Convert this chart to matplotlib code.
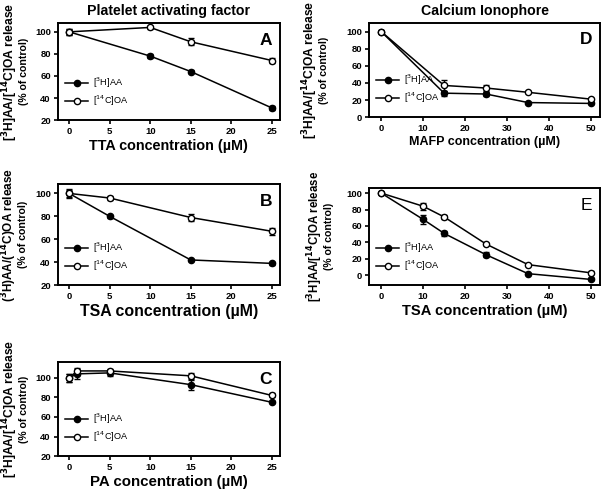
import matplotlib
matplotlib.use("Agg")
import matplotlib.pyplot as plt
from matplotlib.lines import Line2D

plt.rcParams['font.family'] = ['Liberation Sans', 'DejaVu Sans']

# ---- data ----
tta_x = [0, 10, 15, 25]
tta_aa = [100, 78, 64, 31]
tta_aa_err = [3, 2, 1, 2]
tta_oa = [100, 104, 91, 74]
tta_oa_err = [3, 1, 3, 2]

tsa_b_x = [0, 5, 15, 25]
tsa_b_aa = [100, 80, 42, 39]
tsa_b_aa_err = [3, 1, 1, 1]
tsa_b_oa = [100, 96, 79, 67]
tsa_b_oa_err = [4, 2, 3, 3]

pa_x = [0, 1, 5, 15, 25]
pa_aa = [100, 104, 105, 93, 75]
pa_aa_err = [4, 5, 3, 5, 1]
pa_oa = [100, 107, 107, 102, 82]
pa_oa_err = [4, 3, 2, 3, 2]

mafp_x = [0, 15, 25, 35, 50]
mafp_aa = [100, 28, 27, 17, 16]
mafp_aa_err = [1, 3, 2, 1, 1]
mafp_oa = [100, 37, 34, 29, 21]
mafp_oa_err = [2, 6, 3, 1, 1]

tsa_e_x = [0, 10, 15, 25, 35, 50]
tsa_e_aa = [100, 68, 51, 25, 2, -5]
tsa_e_aa_err = [1, 5, 3, 3, 1, 1]
tsa_e_oa = [100, 84, 71, 38, 13, 3]
tsa_e_oa_err = [1, 4, 2, 1, 1, 2]

ylab1 = '[$^\\mathbf{3}$H]AA/[$^\\mathbf{14}$C]OA release'
ylab1_b = '($^\\mathbf{3}$H)AA/($^\\mathbf{14}$C)OA release'
ylab2 = '(% of control)'

W, H = 602.0, 490.0


def panel(ax, x, aa, aa_err, oa, oa_err, xlabel, letter, xlim, ylim, xt, yt,
          ylabel=ylab1, xl_size=10.4, letter_weight='bold', lab_x=(10, 24),
          lab_size=8.7):
    ax.errorbar(x, aa, yerr=aa_err, color='black', marker='o', ms=4.5,
                mfc='black', mec='black', lw=1.1, capsize=2.5, elinewidth=1,
                zorder=3)
    ax.errorbar(x, oa, yerr=oa_err, color='black', marker='o', ms=4.5,
                mfc='white', mec='black', mew=1, lw=1.1, capsize=2.5,
                elinewidth=1, zorder=4)
    ax.set_xlim(*xlim)
    ax.set_ylim(*ylim)
    ax.set_xticks(xt)
    ax.set_yticks(yt)
    for s in ax.spines.values():
        s.set_linewidth(1.4)
    ax.tick_params(direction='out', length=3, width=1.2, labelsize=6.8, pad=2)
    for lab in ax.get_xticklabels() + ax.get_yticklabels():
        lab.set_fontweight('bold')
    ax.set_xlabel(xlabel, fontsize=xl_size, fontweight='bold', labelpad=2)
    # two-line y label, first line larger as in the original
    pos = ax.get_position()
    yc = (pos.y0 + pos.y1) / 2
    fig.text(lab_x[0] / W, yc, ylabel, rotation=90, ha='center', va='center',
             fontsize=lab_size, fontweight='bold')
    fig.text(lab_x[1] / W, yc, ylab2, rotation=90, ha='center', va='center',
             fontsize=7.6, fontweight='bold')
    ax.text(0.965, 0.9, letter, transform=ax.transAxes, ha='right', va='top',
            fontsize=12.5, fontweight=letter_weight)
    handles = [
        Line2D([], [], color='black', marker='o', ms=4.5, mfc='black', lw=1.1),
        Line2D([], [], color='black', marker='o', ms=4.5, mfc='white', mew=1,
               lw=1.1),
    ]
    ax.legend(handles, ['[$^3$H]AA', '[$^{14}$C]OA'], loc='lower left',
              frameon=False, fontsize=6.6, handlelength=2.5,
              borderaxespad=0.4, labelspacing=0.4, handletextpad=0.5,
              bbox_to_anchor=(0.0, 0.05))


fig = plt.figure(figsize=(6.02, 4.90), dpi=100)

axA = fig.add_axes([0.096, 0.755, 0.369, 0.198])
panel(axA, tta_x, tta_aa, tta_aa_err, tta_oa, tta_oa_err,
      'TTA concentration (µM)', 'A', (-1.4, 26), (20, 108),
      [0, 5, 10, 15, 20, 25], [20, 40, 60, 80, 100])
axA.set_title('Platelet activating factor', fontsize=10.2, fontweight='bold',
              pad=6)

axB = fig.add_axes([0.096, 0.418, 0.369, 0.206])
panel(axB, tsa_b_x, tsa_b_aa, tsa_b_aa_err, tsa_b_oa, tsa_b_oa_err,
      'TSA concentration (µM)', 'B', (-1.4, 26), (20, 108),
      [0, 5, 10, 15, 20, 25], [20, 40, 60, 80, 100], ylabel=ylab1_b,
      xl_size=11.4, lab_x=(9, 23), lab_size=8.5)

axC = fig.add_axes([0.096, 0.069, 0.369, 0.192])
panel(axC, pa_x, pa_aa, pa_aa_err, pa_oa, pa_oa_err,
      'PA concentration (µM)', 'C', (-1.4, 26), (20, 116),
      [0, 5, 10, 15, 20, 25], [20, 40, 60, 80, 100], xl_size=10.8)

axD = fig.add_axes([0.613, 0.761, 0.384, 0.192])
panel(axD, mafp_x, mafp_aa, mafp_aa_err, mafp_oa, mafp_oa_err,
      'MAFP concentration (µM)', 'D', (-2.9, 52.2), (0, 110),
      [0, 10, 20, 30, 40, 50], [0, 20, 40, 60, 80, 100], xl_size=9,
      lab_x=(310, 324))
axD.set_title('Calcium Ionophore', fontsize=10.2, fontweight='bold', pad=6)

axE = fig.add_axes([0.613, 0.418, 0.384, 0.198])
panel(axE, tsa_e_x, tsa_e_aa, tsa_e_aa_err, tsa_e_oa, tsa_e_oa_err,
      'TSA concentration (µM)', 'E', (-2.9, 52.2), (-12, 106),
      [0, 10, 20, 30, 40, 50], [0, 20, 40, 60, 80, 100], xl_size=10.6,
      letter_weight='normal', lab_x=(315, 329), lab_size=8.3)

fig.savefig('out.png', dpi=100)
